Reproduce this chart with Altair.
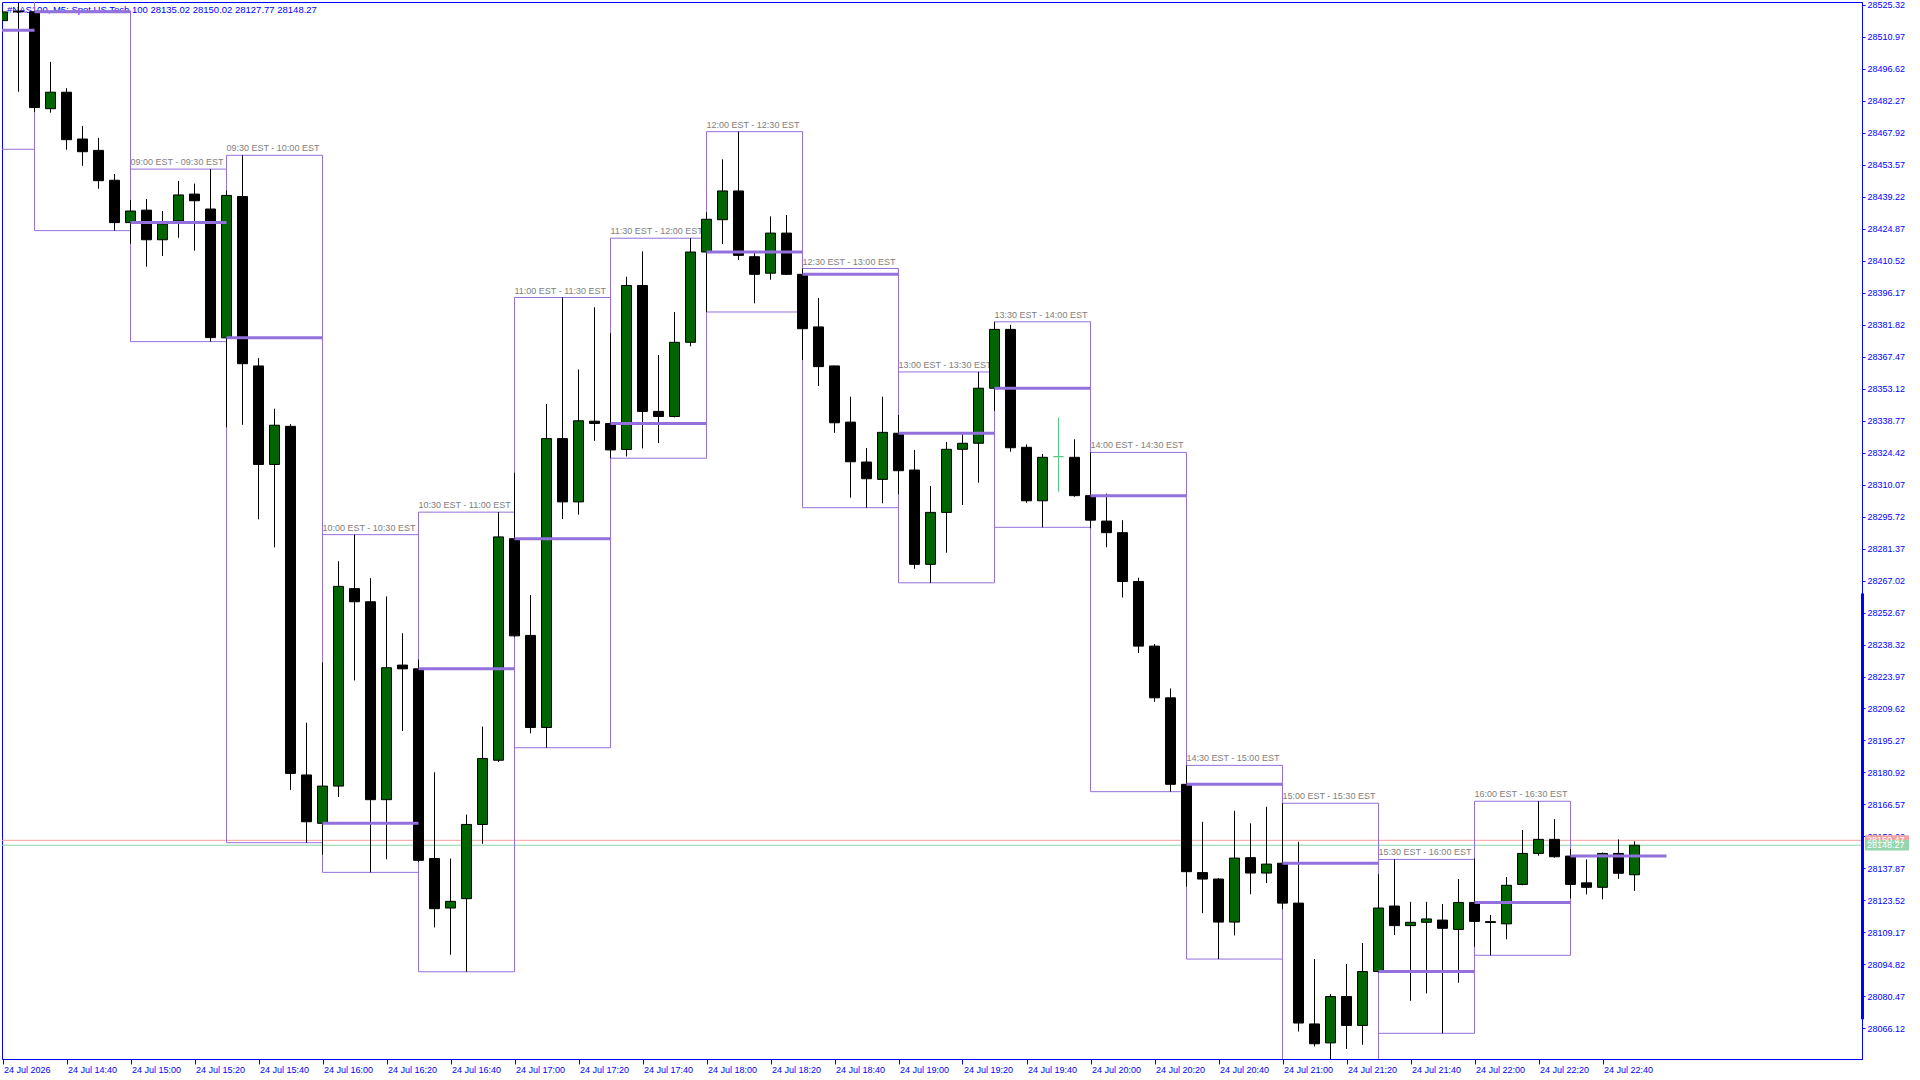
import altair as alt
import pandas as pd

# ---------------------------------------------------------------
# #NAS100 M5 bars, 24 Jul 2026, from 14:20 server time (EST + 6h)
# ---------------------------------------------------------------
opens = [
    28518.2, 28522.5, 28522.2, 28478.7, 28486.1, 28465.1, 28460.0, 28446.6,
    28427.6, 28433.2, 28419.9, 28428.3, 28440.4, 28433.7, 28375.9, 28439.3,
    28363.3, 28319.1, 28336.2, 28179.8, 28158.1, 28174.8, 28263.4, 28257.5,
    28168.7, 28229.1, 28227.4, 28142.3, 28120.1, 28124.3, 28157.6, 28186.4,
    28285.8, 28242.4, 28201.1, 28330.7, 28302.3, 28338.5, 28337.5, 28325.8,
    28399.4, 28342.9, 28340.6, 28373.9, 28414.4, 28428.9, 28441.8, 28412.3,
    28404.9, 28422.9, 28404.4, 28380.8, 28363.3, 28338.1, 28320.2, 28312.4,
    28333.1, 28316.6, 28274.3, 28297.6, 28325.9, 28328.6, 28353.3, 28379.7,
    28326.8, 28302.8, 28322.6, 28322.3, 28305.1, 28293.7, 28288.5, 28266.6,
    28237.6, 28214.4, 28175.6, 28136.0, 28133.1, 28113.8, 28142.7, 28135.8,
    28140.2, 28122.3, 28068.1, 28059.6, 28080.4, 28067.4, 28091.6, 28121.0,
    28112.2, 28113.7, 28114.7, 28110.5, 28122.6, 28114.0, 28113.0, 28130.7,
    28144.6, 28150.9, 28143.4, 28131.4, 28129.4, 28144.6, 28135.02,
]
highs = [
    28522.5, 28526.1, 28522.5, 28499.7, 28487.9, 28470.9, 28465.6, 28449.4,
    28437.7, 28438.2, 28432.8, 28446.3, 28445.1, 28451.6, 28442.0, 28457.8,
    28366.8, 28344.1, 28337.2, 28203.2, 28230.3, 28275.7, 28287.6, 28268.1,
    28259.9, 28243.4, 28231.6, 28181.0, 28142.3, 28162.0, 28201.5, 28297.7,
    28315.4, 28260.5, 28346.2, 28394.0, 28361.7, 28389.6, 28378.0, 28403.3,
    28414.7, 28368.2, 28387.5, 28420.6, 28432.2, 28456.0, 28468.4, 28414.1,
    28430.4, 28431.0, 28407.0, 28393.8, 28363.3, 28349.5, 28326.5, 28349.5,
    28341.3, 28325.6, 28309.4, 28329.2, 28332.6, 28360.6, 28383.1, 28381.7,
    28328.1, 28323.8, 28340.2, 28330.4, 28324.5, 28306.0, 28294.1, 28268.3,
    28238.5, 28218.6, 28184.1, 28158.8, 28133.5, 28163.7, 28158.1, 28165.5,
    28167.1, 28149.8, 28097.2, 28081.5, 28095.0, 28104.4, 28135.3, 28141.9,
    28122.9, 28122.9, 28121.9, 28133.1, 28142.4, 28117.0, 28134.0, 28155.1,
    28168.0, 28160.0, 28146.6, 28141.9, 28145.0, 28150.9, 28150.02,
]
lows = [
    28517.9, 28486.3, 28477.2, 28476.9, 28460.3, 28453.1, 28442.8, 28424.0,
    28418.1, 28407.8, 28412.6, 28420.8, 28415.0, 28374.2, 28335.7, 28336.9,
    28294.5, 28281.9, 28173.1, 28149.4, 28144.0, 28169.9, 28222.2, 28136.1,
    28142.0, 28199.5, 28140.7, 28111.4, 28099.1, 28091.5, 28148.9, 28185.6,
    28241.7, 28198.5, 28192.0, 28294.6, 28296.6, 28329.7, 28321.9, 28322.7,
    28326.3, 28328.7, 28340.2, 28372.1, 28387.5, 28418.0, 28410.8, 28391.4,
    28402.0, 28404.1, 28365.9, 28354.3, 28333.3, 28304.2, 28299.7, 28301.7,
    28305.8, 28272.3, 28266.0, 28279.5, 28300.9, 28310.9, 28343.1, 28324.8,
    28301.9, 28290.9, 28306.9, 28304.6, 28290.5, 28282.0, 28259.4, 28234.5,
    28212.6, 28172.3, 28129.7, 28117.8, 28097.2, 28107.8, 28126.3, 28131.3,
    28119.6, 28064.7, 28058.0, 28049.2, 28056.9, 28058.7, 28091.0, 28108.0,
    28078.5, 28081.8, 28063.9, 28086.6, 28102.7, 28098.9, 28106.1, 28130.3,
    28143.6, 28142.7, 28124.4, 28126.2, 28124.0, 28133.2, 28127.77,
]
closes = [
    28522.1, 28522.1, 28479.2, 28486.1, 28464.8, 28459.4, 28446.4, 28427.6,
    28432.8, 28419.9, 28427.0, 28440.0, 28437.4, 28376.0, 28439.8, 28364.3,
    28319.1, 28336.7, 28180.5, 28158.8, 28174.8, 28264.4, 28257.5, 28168.7,
    28227.9, 28227.4, 28141.5, 28119.8, 28123.1, 28157.6, 28187.2, 28286.6,
    28242.2, 28201.1, 28330.7, 28302.3, 28338.7, 28337.5, 28325.6, 28399.4,
    28342.9, 28340.6, 28373.9, 28414.4, 28429.1, 28441.8, 28412.9, 28404.4,
    28422.9, 28404.4, 28380.0, 28363.0, 28337.8, 28320.3, 28312.7, 28333.5,
    28316.3, 28274.3, 28297.6, 28325.9, 28328.6, 28353.3, 28379.7, 28326.6,
    28302.8, 28322.3, 28322.6, 28305.1, 28294.1, 28288.5, 28266.6, 28237.6,
    28214.4, 28175.6, 28136.4, 28133.1, 28113.8, 28142.5, 28135.8, 28139.8,
    28122.3, 28068.5, 28059.2, 28080.4, 28067.4, 28091.6, 28120.1, 28112.2,
    28113.7, 28115.2, 28111.0, 28122.6, 28114.1, 28113.6, 28130.3, 28144.6,
    28150.9, 28143.1, 28130.7, 28129.4, 28144.6, 28135.7, 28148.27,
]

# Session that started before the first visible bar (14:00 server)
prior_open = 28513.9
prior_high = 28540.0
prior_low = 28460.5

# Quotes and the marker on the price scale
ask_price = 28150.47
bid_price = 28148.27
range_marker = [28261.2, 28070.2]

title_text = "#NAS100, M5: Spot US Tech 100  28135.02 28150.02 28127.77 28148.27"

# Price-scale labels
y_ticks = [
    28066.12, 28080.47, 28094.82, 28109.17, 28123.52, 28137.87, 28152.22,
    28166.57, 28180.92, 28195.27, 28209.62, 28223.97, 28238.32, 28252.67,
    28267.02, 28281.37, 28295.72, 28310.07, 28324.42, 28338.77, 28353.12,
    28367.47, 28381.82, 28396.17, 28410.52, 28424.87, 28439.22, 28453.57,
    28467.92, 28482.27, 28496.62, 28510.97, 28525.32,
]
# Time-scale labels, minutes after midnight (14:20 ... 22:40)
x_ticks = [860, 880, 900, 920, 940, 960, 980, 1000, 1020, 1040, 1060, 1080,
           1100, 1120, 1140, 1160, 1180, 1200, 1220, 1240, 1260, 1280, 1300,
           1320, 1340, 1360]

# ---------------- styling ----------------
BLUE = "#0000FF"
PURPLE = "#9370DB"
BULL = "#006400"
BEAR = "#000000"
FLAT = "#55C883"
LABEL_GRAY = "#808080"
FONT = "Liberation Sans"

W, H = 1860, 1057
Y_MIN, Y_MAX = 28052.37, 28526.57
X_MIN, X_MAX = 859.84375, 1441.09375
px_per_pt = H / (Y_MAX - Y_MIN)

# ---------------- tables ----------------
first_bar = 14 * 60 + 20
candles = pd.DataFrame({
    "t": [first_bar + 5 * i for i in range(len(opens))],
    "open": opens, "high": highs, "low": lows, "close": closes,
})
candles["body_lo"] = candles[["open", "close"]].min(axis=1)
candles["body_hi"] = candles[["open", "close"]].max(axis=1)


def fill_of(row):
    if row["close"] > row["open"]:
        return BULL
    if row["close"] < row["open"]:
        return BEAR
    return FLAT


candles["fill"] = candles.apply(fill_of, axis=1)
candles["edge"] = candles["fill"].map(lambda c: FLAT if c == FLAT else "#000000")
candles["session"] = candles["t"] // 30 * 30

sess = (candles.groupby("session")
        .agg(open=("open", "first"), high=("high", "max"), low=("low", "min"))
        .reset_index())
first_sess = sess["session"].min()
sess.loc[sess["session"] == first_sess, ["open", "high", "low"]] = [prior_open, prior_high, prior_low]
sess["end"] = sess["session"] + 30


def hhmm(m):
    return f"{m // 60:02d}:{m % 60:02d}"


sess["label"] = [f"{hhmm(s - 360)} EST - {hhmm(e - 360)} EST"
                 for s, e in zip(sess["session"], sess["end"])]

last_sess = sess["session"].max()
closed_sess = sess[sess["session"] != last_sess]
room = 12 / px_per_pt
labelled = closed_sess[closed_sess["high"] + room <= Y_MAX]

quotes = pd.DataFrame({
    "price": [ask_price, bid_price],
    "line": ["#F4A09C", "#8ED3A6"],
    "tag": ["#F4A3A3", "#93D6AE"],
    "text": [f"{ask_price:.2f}", f"{bid_price:.2f}"],
})
half_tag = 5.2 / px_per_pt
quotes["lo"] = quotes["price"] - half_tag
quotes["hi"] = quotes["price"] + half_tag

marker = pd.DataFrame({"top": [range_marker[0]], "bottom": [range_marker[1]]})

# ---------------- scales & axes ----------------
xs = alt.Scale(domain=[X_MIN, X_MAX], nice=False, zero=False, padding=0)
ys = alt.Scale(domain=[Y_MIN, Y_MAX], nice=False, zero=False, padding=0)

x_label_expr = (
    "datum.value == 860 ? '24 Jul 2026' : '24 Jul ' + "
    "(floor(datum.value / 60) < 10 ? '0' : '') + floor(datum.value / 60) + ':' + "
    "(datum.value % 60 < 10 ? '0' : '') + (datum.value % 60)"
)
x_axis = alt.Axis(
    values=x_ticks, labelExpr=x_label_expr, title=None, grid=False, orient="bottom",
    domainColor=BLUE, tickColor=BLUE, tickSize=5, labelColor=BLUE, labelFont=FONT,
    labelFontSize=9, labelAlign="left", labelBaseline="top", labelPadding=1,
    labelOffset=1, labelOverlap=False, labelFlush=False, labelBound=False,
)
y_axis = alt.Axis(
    values=y_ticks, format=".2f", title=None, grid=False, orient="right",
    domainColor=BLUE, tickColor=BLUE, tickSize=3, labelColor=BLUE, labelFont=FONT,
    labelFontSize=9, labelPadding=2, labelOverlap=False, labelFlush=False,
    labelBound=False,
)


def X(field):
    return alt.X(field, type="quantitative", scale=xs, axis=x_axis)


def Y(field):
    return alt.Y(field, type="quantitative", scale=ys, axis=y_axis)


# ---------------- layers ----------------
header = alt.Chart(pd.DataFrame({"text": [title_text]})).mark_text(
    align="left", baseline="middle", font=FONT, fontSize=9.5, color=BLUE
).encode(x=alt.value(5), y=alt.value(7.5), text="text:N")

quote_lines = alt.Chart(quotes).mark_rule(strokeWidth=1, clip=True).encode(
    y=Y("price"), stroke=alt.Stroke("line:N", scale=None)
)

boxes = alt.Chart(closed_sess).mark_rect(
    fillOpacity=0, stroke=PURPLE, strokeWidth=1, clip=True
).encode(x=X("session"), x2="end", y=Y("high"), y2="low")

box_labels = alt.Chart(labelled).mark_text(
    align="left", baseline="bottom", dy=-2, font=FONT, fontSize=9,
    color=LABEL_GRAY, clip=True
).encode(x=X("session"), y=Y("high"), text="label:N")

wicks = alt.Chart(candles).mark_rule(strokeWidth=1, clip=True).encode(
    x=X("t"), y=Y("low"), y2="high", stroke=alt.Stroke("edge:N", scale=None)
)

bodies = alt.Chart(candles).mark_bar(size=10, strokeWidth=1, clip=True).encode(
    x=X("t"), y=Y("body_lo"), y2="body_hi",
    fill=alt.Fill("fill:N", scale=None), stroke=alt.Stroke("edge:N", scale=None),
)

open_lines = alt.Chart(sess).mark_rule(strokeWidth=3, color=PURPLE, clip=True).encode(
    x=X("session"), x2="end", y=Y("open")
)

marker_rule = alt.Chart(marker).mark_rule(strokeWidth=3, color=BLUE).encode(
    x=alt.value(1860.5), y=Y("top"), y2="bottom"
)

tags = alt.Chart(quotes).mark_rect().encode(
    x=alt.value(1863), x2=alt.value(1907), y=Y("lo"), y2="hi",
    fill=alt.Fill("tag:N", scale=None),
)

tag_text = alt.Chart(quotes).mark_text(
    align="left", baseline="middle", font=FONT, fontSize=9, color="white"
).encode(x=alt.value(1865), y=Y("price"), text="text:N")

chart = alt.layer(
    header, quote_lines, boxes, box_labels, wicks, bodies, open_lines,
    marker_rule, tags, tag_text,
).properties(
    width=W, height=H,
    padding={"left": 2, "top": 2, "right": 58, "bottom": 19},
    autosize=alt.AutoSizeParams(type="none"),
    background="white",
).configure_view(stroke=BLUE, strokeWidth=1)

chart.save("out.html", embed_options={"renderer": "svg", "actions": False})
